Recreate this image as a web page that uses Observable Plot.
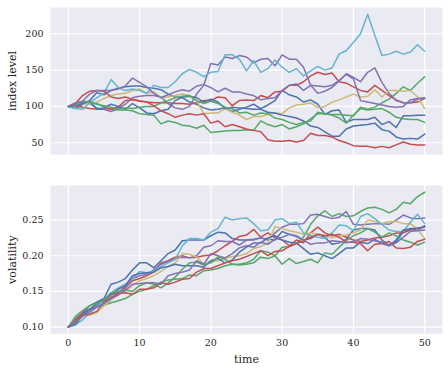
<!DOCTYPE html>
<html>
<head>
<meta charset="utf-8">
<script src="https://cdn.jsdelivr.net/npm/d3@7"></script>
<script src="https://cdn.jsdelivr.net/npm/@observablehq/plot@0.6"></script>
<style>
  html, body { margin: 0; padding: 0; background: white; }
  #chart { width: 448px; height: 370px; }
  #chart svg { display: block; }
</style>
</head>
<body>
<div id="chart"></div>
<script>
// ---- series names and colours (seaborn "deep") ----
const seriesNames = ["s0", "s1", "s2", "s3", "s4", "s5", "s6", "s7", "s8", "s9"];
const seriesColors = ["#4C72B0", "#55A868", "#C44E52", "#8172B2", "#CCB974", "#64B5CD",
                      "#4C72B0", "#55A868", "#C44E52", "#8172B2"];

// ---- tick labels ----
const timeTicks = [0, 10, 20, 30, 40, 50];
const levelTicks = [50, 100, 150, 200];
const volTicks = [0.10, 0.15, 0.20, 0.25];

// ---- index level (top panel), one array per series, t = 0..50 ----
const level0 = [100, 97, 103, 108, 119, 116, 122, 125, 127, 128, 128,
  126, 125, 123, 117, 113, 112, 106, 103, 98, 95,
  96, 98, 93, 96, 99, 103, 97, 102, 108, 122,
  116, 113, 106, 109, 103, 89, 94, 95, 78, 82,
  82, 82, 85, 75, 79, 71, 87, 87, 88, 88];
const level1 = [100, 104, 106, 107, 104, 99, 96, 95, 95, 94, 90,
  89, 88, 76, 80, 78, 74, 73, 70, 74, 64,
  65, 66, 67, 67, 68, 67, 80, 75, 72, 75,
  69, 72, 76, 83, 90, 90, 89, 89, 88, 87,
  99, 96, 99, 105, 110, 118, 127, 122, 132, 141];
const level2 = [100, 101, 99, 97, 96, 96, 97, 99, 108, 109, 107,
  106, 105, 105, 105, 104, 104, 103, 105, 108, 108,
  113, 112, 101, 108, 109, 108, 115, 112, 120, 121,
  129, 129, 134, 142, 147, 144, 146, 134, 132, 127,
  122, 120, 129, 122, 115, 109, 105, 105, 106, 111];
const level3 = [100, 104, 106, 104, 98, 96, 93, 97, 103, 112, 114,
  115, 115, 113, 104, 98, 96, 100, 117, 129, 159,
  157, 168, 166, 170, 168, 160, 165, 166, 156, 171,
  165, 165, 154, 129, 118, 121, 126, 135, 145, 140,
  134, 147, 153, 133, 118, 108, 105, 105, 110, 111];
const level4 = [100, 102, 104, 103, 106, 111, 115, 117, 118, 122, 124,
  118, 120, 112, 113, 115, 117, 115, 108, 90, 91,
  91, 97, 92, 88, 82, 86, 86, 89, 91, 90,
  98, 102, 103, 105, 98, 100, 106, 109, 113, 117,
  113, 114, 123, 113, 122, 122, 121, 122, 113, 97];
const level5 = [100, 97, 96, 105, 112, 118, 137, 126, 122, 124, 122,
  118, 129, 126, 126, 134, 145, 151, 147, 141, 147,
  148, 171, 171, 165, 149, 163, 147, 152, 164, 154,
  147, 152, 142, 149, 155, 150, 153, 172, 177, 188,
  200, 227, 198, 170, 172, 176, 172, 175, 185, 176];
const level6 = [100, 101, 104, 107, 96, 98, 103, 100, 96, 104, 98,
  91, 90, 94, 96, 108, 113, 114, 112, 106, 110,
  106, 97, 99, 98, 97, 96, 96, 92, 91, 88,
  86, 84, 80, 73, 71, 65, 59, 59, 69, 73,
  74, 75, 77, 68, 66, 58, 55, 56, 55, 62];
const level7 = [100, 103, 107, 106, 103, 101, 99, 96, 98, 97, 99,
  100, 100, 105, 108, 112, 114, 115, 108, 104, 107,
  104, 99, 97, 91, 92, 88, 91, 90, 84, 82,
  78, 75, 78, 80, 92, 90, 88, 84, 77, 88,
  97, 95, 96, 97, 92, 85, 83, 82, 82, 78];
const level8 = [100, 104, 115, 121, 122, 121, 113, 111, 113, 110, 108,
  106, 101, 94, 90, 85, 88, 90, 88, 90, 77,
  80, 72, 75, 72, 69, 67, 65, 54, 52, 52,
  53, 51, 53, 63, 60, 60, 58, 53, 50, 46,
  45, 45, 43, 45, 43, 47, 51, 48, 47, 47];
const level9 = [100, 105, 107, 117, 122, 122, 122, 124, 128, 139, 133,
  127, 118, 112, 116, 120, 123, 121, 128, 130, 126,
  120, 125, 120, 120, 117, 115, 109, 111, 112, 122,
  129, 131, 122, 129, 128, 127, 129, 136, 144, 138,
  108, 106, 104, 102, 100, 99, 100, 109, 111, 112];

// ---- volatility (bottom panel) ----
const vol0 = [.100, .107, .120, .130, .135, .140, .160, .163, .168, .180, .190,
  .190, .183, .193, .203, .208, .221, .222, .222, .222, .228,
  .233, .232, .224, .222, .222, .223, .225, .223, .222, .234,
  .230, .227, .222, .224, .230, .226, .216, .218, .223, .236,
  .238, .238, .236, .222, .215, .220, .234, .237, .236, .242];
const vol1 = [.100, .112, .120, .125, .128, .131, .134, .137, .140, .146, .150,
  .153, .158, .163, .166, .167, .168, .173, .172, .179, .180,
  .182, .186, .188, .187, .188, .190, .198, .196, .200, .212,
  .213, .217, .226, .244, .256, .263, .255, .259, .255, .256,
  .262, .267, .268, .265, .260, .265, .275, .273, .283, .289];
const vol2 = [.100, .110, .120, .125, .130, .138, .146, .148, .155, .165, .168,
  .172, .177, .190, .193, .198, .200, .197, .198, .200, .201,
  .207, .214, .220, .227, .229, .237, .226, .232, .225, .222,
  .214, .222, .218, .232, .240, .232, .228, .230, .226, .222,
  .220, .222, .225, .226, .228, .232, .232, .236, .239, .240];
const vol3 = [.100, .108, .118, .125, .130, .137, .140, .148, .157, .168, .172,
  .174, .180, .188, .192, .196, .198, .197, .200, .212, .214,
  .221, .220, .220, .215, .222, .222, .225, .222, .232, .240,
  .244, .244, .245, .257, .258, .255, .252, .254, .262, .244,
  .243, .244, .245, .245, .244, .250, .257, .253, .252, .253];
const vol4 = [.100, .108, .115, .117, .120, .130, .138, .145, .150, .158, .165,
  .168, .172, .178, .185, .190, .203, .202, .198, .188, .192,
  .193, .196, .199, .200, .203, .210, .213, .218, .241, .238,
  .235, .233, .230, .232, .230, .228, .225, .228, .229, .232,
  .236, .250, .248, .245, .248, .248, .245, .245, .237, .224];
const vol5 = [.100, .103, .110, .120, .128, .138, .148, .155, .160, .168, .178,
  .176, .178, .185, .190, .195, .214, .224, .224, .222, .233,
  .238, .254, .250, .252, .253, .245, .235, .236, .250, .252,
  .245, .247, .232, .228, .226, .224, .232, .243, .242, .235,
  .255, .259, .252, .244, .236, .234, .234, .247, .258, .245];
const vol6 = [.100, .104, .116, .125, .133, .138, .145, .153, .158, .172, .175,
  .176, .177, .183, .185, .188, .186, .186, .186, .184, .193,
  .196, .190, .194, .205, .212, .218, .218, .225, .228, .222,
  .219, .218, .210, .202, .204, .200, .196, .203, .211, .211,
  .219, .217, .223, .217, .214, .222, .236, .238, .238, .241];
const vol7 = [.100, .115, .123, .130, .133, .138, .148, .150, .152, .150, .158,
  .162, .160, .155, .162, .170, .181, .190, .191, .187, .190,
  .198, .195, .188, .188, .190, .195, .207, .205, .200, .188,
  .196, .189, .192, .195, .190, .204, .202, .212, .221, .228,
  .232, .238, .233, .226, .232, .228, .222, .219, .215, .219];
const vol8 = [.100, .108, .117, .118, .122, .135, .142, .147, .148, .146, .153,
  .153, .155, .162, .160, .163, .167, .168, .177, .182, .182,
  .186, .190, .193, .195, .199, .203, .207, .200, .206, .207,
  .213, .217, .221, .226, .230, .228, .230, .226, .219, .219,
  .217, .207, .216, .217, .220, .211, .210, .212, .220, .223];
const vol9 = [.100, .107, .115, .122, .128, .133, .140, .145, .152, .160, .161,
  .162, .162, .160, .172, .175, .177, .180, .193, .188, .203,
  .200, .197, .203, .211, .214, .212, .219, .216, .223, .226,
  .230, .228, .222, .216, .218, .218, .221, .220, .218, .220,
  .224, .223, .221, .219, .214, .218, .226, .234, .235, .236];

const levelSeries = [level0, level1, level2, level3, level4, level5, level6, level7, level8, level9];
const volSeries = [vol0, vol1, vol2, vol3, vol4, vol5, vol6, vol7, vol8, vol9];

// long tables for Plot
function toRows(list) {
  const rows = [];
  list.forEach((vals, i) => vals.forEach((v, t) => rows.push({series: seriesNames[i], time: t, value: v})));
  return rows;
}
const levelRows = toRows(levelSeries);
const volRows = toRows(volSeries);

// matplotlib-like 5% margins
function padded(extent) {
  const pad = 0.05 * (extent[1] - extent[0]);
  return [extent[0] - pad, extent[1] + pad];
}
const xDomain = padded(d3.extent(levelRows, d => d.time));
const levelDomain = padded(d3.extent(levelRows, d => d.value));
const volDomain = padded(d3.extent(volRows, d => d.value));

const FONT = "DejaVu Serif";
const TEXT = "#262626";
const BG = "#EAEAF2";
const colorScale = {domain: seriesNames, range: seriesColors};

const topChart = Plot.plot({
  width: 448, height: 160,
  marginTop: 7, marginBottom: 6, marginLeft: 50, marginRight: 6,
  style: {fontFamily: FONT, color: TEXT, background: "white", overflow: "visible"},
  x: {domain: xDomain, axis: null},
  y: {domain: levelDomain},
  color: colorScale,
  marks: [
    Plot.frame({fill: BG, stroke: null}),
    Plot.gridX({ticks: timeTicks, stroke: "white", strokeOpacity: 1, strokeWidth: 1.2}),
    Plot.gridY({ticks: levelTicks, stroke: "white", strokeOpacity: 1, strokeWidth: 1.2}),
    Plot.axisY({ticks: levelTicks, tickSize: 0, tickPadding: 7, label: null, fontSize: 9.5}),
    Plot.axisY({ticks: [], label: "index level", labelAnchor: "center", labelArrow: "none", labelOffset: 42, fontSize: 11}),
    Plot.line(levelRows, {x: "time", y: "value", z: "series", stroke: "series", strokeWidth: 1.5})
  ]
});

const bottomChart = Plot.plot({
  width: 448, height: 210,
  marginTop: 25, marginBottom: 36.7, marginLeft: 50, marginRight: 6,
  style: {fontFamily: FONT, color: TEXT, background: "white", overflow: "visible"},
  x: {domain: xDomain},
  y: {domain: volDomain},
  color: colorScale,
  marks: [
    Plot.frame({fill: BG, stroke: null}),
    Plot.gridX({ticks: timeTicks, stroke: "white", strokeOpacity: 1, strokeWidth: 1.2}),
    Plot.gridY({ticks: volTicks, stroke: "white", strokeOpacity: 1, strokeWidth: 1.2}),
    Plot.axisY({ticks: volTicks, tickFormat: d3.format(".2f"), tickSize: 0, tickPadding: 7, label: null, fontSize: 9.5}),
    Plot.axisY({ticks: [], label: "volatility", labelAnchor: "center", labelArrow: "none", labelOffset: 42, fontSize: 11}),
    Plot.axisX({ticks: timeTicks, tickSize: 0, tickPadding: 5, label: null, fontSize: 9.5}),
    Plot.axisX({ticks: [], label: "time", labelAnchor: "center", labelArrow: "none", labelOffset: 29, fontSize: 11}),
    Plot.line(volRows, {x: "time", y: "value", z: "series", stroke: "series", strokeWidth: 1.5})
  ]
});

const chart = document.getElementById("chart");
chart.appendChild(topChart);
chart.appendChild(bottomChart);
</script>
</body>
</html>
